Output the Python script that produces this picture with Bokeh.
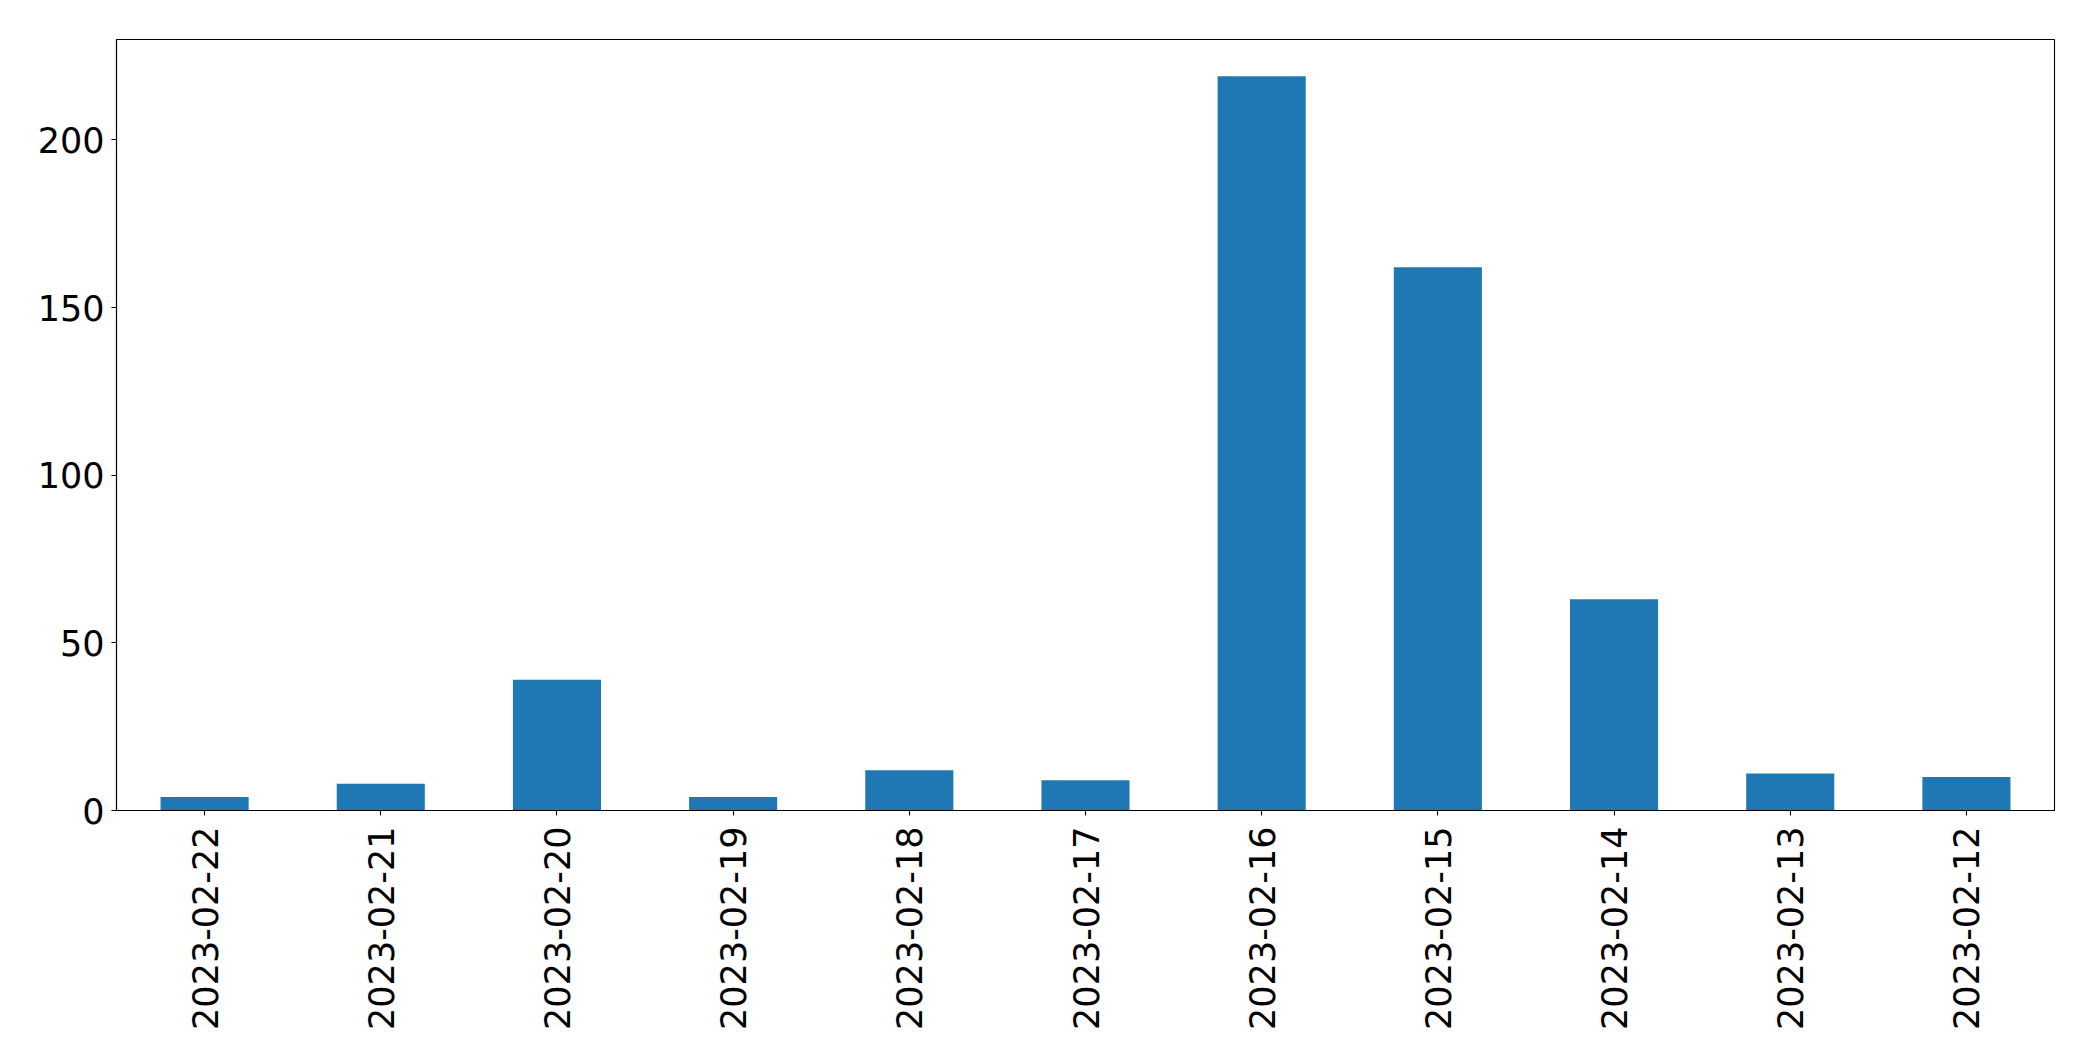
import math
from bokeh.plotting import figure
from bokeh.models import ColumnDataSource, FactorRange, Range1d, FixedTicker
from bokeh.embed import file_html
from bokeh.resources import INLINE

dates = ["2023-02-22", "2023-02-21", "2023-02-20", "2023-02-19", "2023-02-18",
         "2023-02-17", "2023-02-16", "2023-02-15", "2023-02-14", "2023-02-13",
         "2023-02-12"]
counts = [4, 8, 39, 4, 12, 9, 219, 162, 63, 11, 10]
y_ticks = [0, 50, 100, 150, 200]

source = ColumnDataSource(data=dict(date=dates, count=counts))

p = figure(
    x_range=FactorRange(factors=dates, range_padding=0),
    y_range=Range1d(0, max(counts) * 1.05),
    width=2077, height=1040,
    output_backend="svg", toolbar_location=None,
    min_border_left=116, min_border_top=39, min_border_right=23, min_border_bottom=230,
)
p.vbar(x="date", top="count", width=0.5, source=source,
       fill_color="#1f77b4", line_color=None)

p.xgrid.visible = False
p.ygrid.visible = False
p.outline_line_color = "black"
p.outline_line_width = 1.1
p.outline_line_alpha = 1.0
p.background_fill_color = "white"
p.border_fill_color = "white"

for ax in (p.xaxis[0], p.yaxis[0]):
    ax.axis_line_color = "black"
    ax.axis_line_width = 1.1
    ax.major_tick_line_color = "black"
    ax.major_tick_line_width = 1.1
    ax.major_tick_out = 5
    ax.major_tick_in = 0
    ax.minor_tick_line_color = None
    ax.major_label_text_font = "DejaVu Sans"
    ax.major_label_text_font_size = "35px"
    ax.major_label_text_color = "black"

p.yaxis[0].ticker = FixedTicker(ticks=y_ticks)
p.yaxis[0].major_label_standoff = 7
p.xaxis[0].major_label_orientation = math.pi / 2
p.xaxis[0].major_label_standoff = 11

open("out.html", "w").write(file_html(p, INLINE))
